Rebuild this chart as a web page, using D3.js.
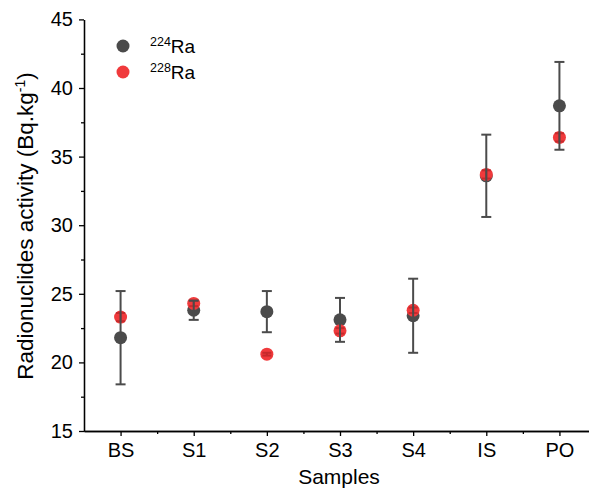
<!DOCTYPE html>
<html>
<head>
<meta charset="utf-8">
<script src="https://cdn.jsdelivr.net/npm/d3@7"></script>
<style>
body{margin:0;background:#fff;}
text{font-family:"Liberation Sans",Arial,sans-serif;fill:#000;}
</style>
</head>
<body>
<svg></svg>
<script>
//data
var samples = ['BS','S1','S2','S3','S4','IS','PO'];
var ra224 = [21.8,23.8,23.7,23.1,23.4,33.6,38.7];
var ra224Err = [3.4,0.7,1.5,1.6,2.7,3.0,3.2];
var ra228 = [23.3,24.3,20.6,22.3,23.8,33.7,36.4];
var ra228Err = [0.3,0.2,0.1,0.2,0.2,0.3,0.3];
var yTicks = [15,20,25,30,35,40,45];

var width = 589, height = 492;
var gray = '#4b4b4b', red = '#f03a3c';
var svg = d3.select('svg').attr('width',width).attr('height',height);

var xScale = d3.scaleLinear().domain([0.5,7.5]).range([84,596]);
var yScale = d3.scaleLinear().domain([15,45]).range([431,19.4]);

//axes
var axisX = d3.axisBottom(xScale).tickValues(d3.range(1,8)).tickFormat(function(d){return samples[d-1];}).tickSize(5).tickSizeOuter(0);
var axisXm = d3.axisBottom(xScale).tickValues(d3.range(1.5,7.5,1)).tickFormat('').tickSize(3).tickSizeOuter(0);
var axisY = d3.axisLeft(yScale).tickValues(yTicks).tickSize(5).tickSizeOuter(0);
var axisYm = d3.axisLeft(yScale).tickValues(d3.range(17.5,45,5)).tickFormat('').tickSize(3).tickSizeOuter(0);

var gx = svg.append('g').attr('transform','translate(0,431)');
gx.call(axisX);
gx.append('g').call(axisXm);
var gy = svg.append('g').attr('transform','translate(84,0)');
gy.call(axisY);
gy.append('g').call(axisYm);
svg.selectAll('.domain, .tick line').attr('stroke','#000').attr('stroke-width',1.3);
gx.selectAll('.tick text').attr('font-size',20).attr('dy','0.9em');
gy.selectAll('.tick text').attr('font-size',20).attr('dx','-0.15em');

//markers
var pts = samples.map(function(s,i){return {i:i+1,a:ra224[i],ae:ra224Err[i],b:ra228[i],be:ra228Err[i]};});
var chartG = svg.append('g');
chartG.selectAll('.m224').data(pts).enter().append('circle')
	.attr('cx',function(d){return xScale(d.i);}).attr('cy',function(d){return yScale(d.a);})
	.attr('r',6.5).attr('fill',gray);
chartG.selectAll('.m228').data(pts).enter().append('circle')
	.attr('cx',function(d){return xScale(d.i);}).attr('cy',function(d){return yScale(d.b);})
	.attr('r',6.5).attr('fill',red);

function errBars(key,ek,col,cap){
	var g = chartG.append('g').attr('stroke',col).attr('stroke-width',2);
	g.selectAll('line.v').data(pts).enter().append('line')
		.attr('x1',function(d){return xScale(d.i);}).attr('x2',function(d){return xScale(d.i);})
		.attr('y1',function(d){return yScale(d[key]-d[ek]);}).attr('y2',function(d){return yScale(d[key]+d[ek]);});
	[-1,1].forEach(function(s){
		g.selectAll('line.c'+s).data(pts).enter().append('line')
			.attr('x1',function(d){return xScale(d.i)-cap;}).attr('x2',function(d){return xScale(d.i)+cap;})
			.attr('y1',function(d){return yScale(d[key]+s*d[ek]);}).attr('y2',function(d){return yScale(d[key]+s*d[ek]);});
	});
}
errBars('b','be','#c62a2c',4.5);
errBars('a','ae',gray,5);

//legend
var leg = svg.append('g');
[[gray,'224',46],[red,'228',72]].forEach(function(l){
	leg.append('circle').attr('cx',123).attr('cy',l[2]).attr('r',6.5).attr('fill',l[0]);
	var t = leg.append('text').attr('x',150).attr('y',l[2]+6.5).attr('font-size',19);
	t.append('tspan').attr('font-size',12.5).attr('dy',-7).text(l[1]);
	t.append('tspan').attr('dy',7).text('Ra');
});

//axis titles
svg.append('text').attr('x',339).attr('y',484).attr('text-anchor','middle').attr('font-size',21).text('Samples');
var yt = svg.append('text').attr('transform','translate(33,226) rotate(-90)').attr('text-anchor','middle').attr('font-size',22.5);
yt.append('tspan').text('Radionuclides activity (Bq.kg');
yt.append('tspan').attr('font-size',14).attr('dy',-8).text('-1');
yt.append('tspan').attr('dy',8).text(')');
</script>
</body>
</html>
